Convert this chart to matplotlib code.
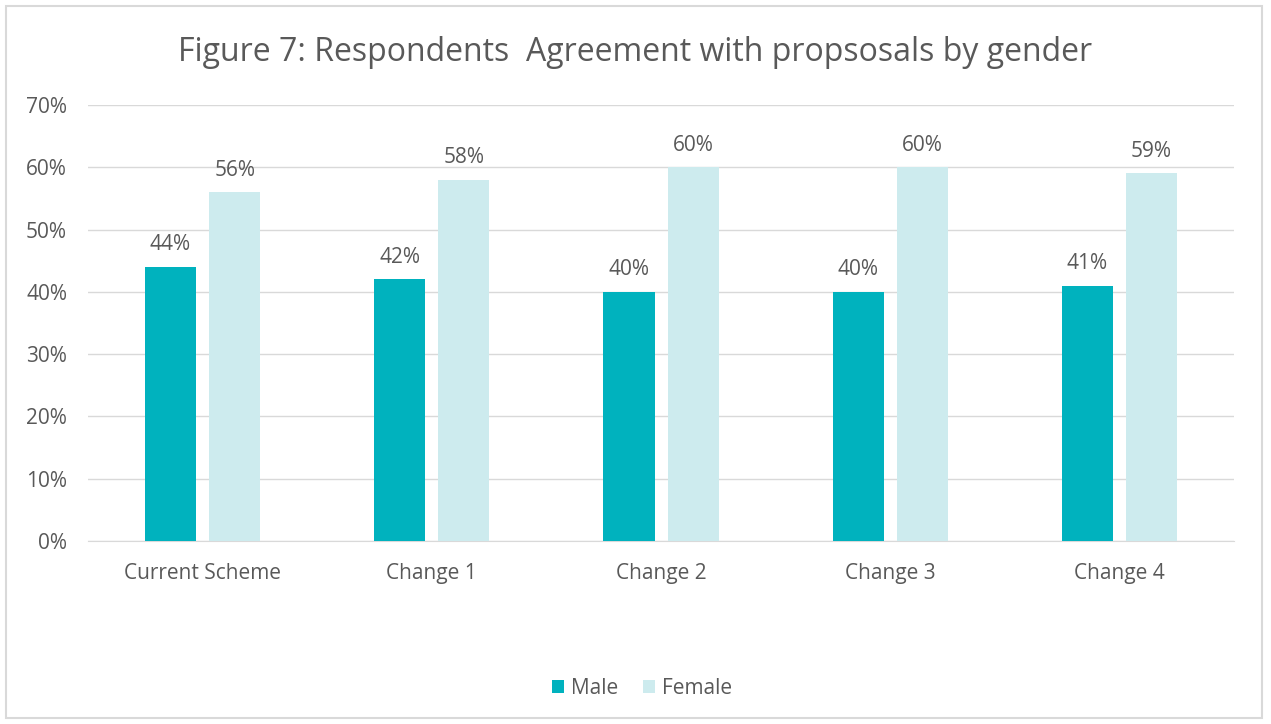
import matplotlib.pyplot as plt
import matplotlib.patches as patches
import numpy as np

categories = ['Current Scheme', 'Change 1', 'Change 2', 'Change 3', 'Change 4']
male = [44, 42, 40, 40, 41]
female = [56, 58, 60, 60, 59]

male_color = '#00B2BE'
female_color = '#CDEBEE'
text_color = '#595959'

plt.rcParams['font.family'] = ['Open Sans', 'DejaVu Sans']

fig = plt.figure(figsize=(12.71, 7.24), dpi=100)
ax = fig.add_axes([0.0692, 0.2528, 0.9018, 0.6022])

x = np.arange(len(categories))
w = 0.223
off = 0.14
b1 = ax.bar(x - off, male, w, color=male_color, label='Male', zorder=3)
b2 = ax.bar(x + off, female, w, color=female_color, label='Female', zorder=3)

# value labels above each bar
for bars, vals in [(b1, male), (b2, female)]:
    for b, v in zip(bars, vals):
        ax.annotate(f'{v}%', (b.get_x() + b.get_width() / 2, v),
                    xytext=(0, 22), textcoords='offset pixels',
                    ha='center', va='center', fontsize=15, color=text_color)

ax.set_xlim(-0.5, len(categories) - 0.5)
ax.set_ylim(0, 70)
ax.set_yticks(range(0, 71, 10))
ax.set_yticklabels([f'{t}%' for t in range(0, 71, 10)])
ax.set_xticks(x)
ax.set_xticklabels(categories)
ax.tick_params(length=0, labelsize=15, colors=text_color)
ax.tick_params(axis='y', pad=15)
ax.tick_params(axis='x', pad=16)
ax.grid(axis='y', color='#D9D9D9', linewidth=1, zorder=0)
for s in ['top', 'right', 'left']:
    ax.spines[s].set_visible(False)
ax.spines['bottom'].set_color('#D9D9D9')

fig.text(0.5, 0.927, 'Figure 7: Respondents  Agreement with propsosals by gender',
         ha='center', va='center', fontsize=23, color=text_color)

fig.legend(loc='center', bbox_to_anchor=(0.505, 0.049), ncol=2, frameon=False,
           fontsize=15, labelcolor=text_color, handlelength=0.6, handleheight=0.6,
           handletextpad=0.3, columnspacing=1.2)

fig.patches.append(patches.Rectangle((0.005, 0.008), 0.988, 0.984, transform=fig.transFigure,
                                     fill=False, edgecolor='#D9D9D9', linewidth=1.5))

fig.savefig('out.png', dpi=100)
